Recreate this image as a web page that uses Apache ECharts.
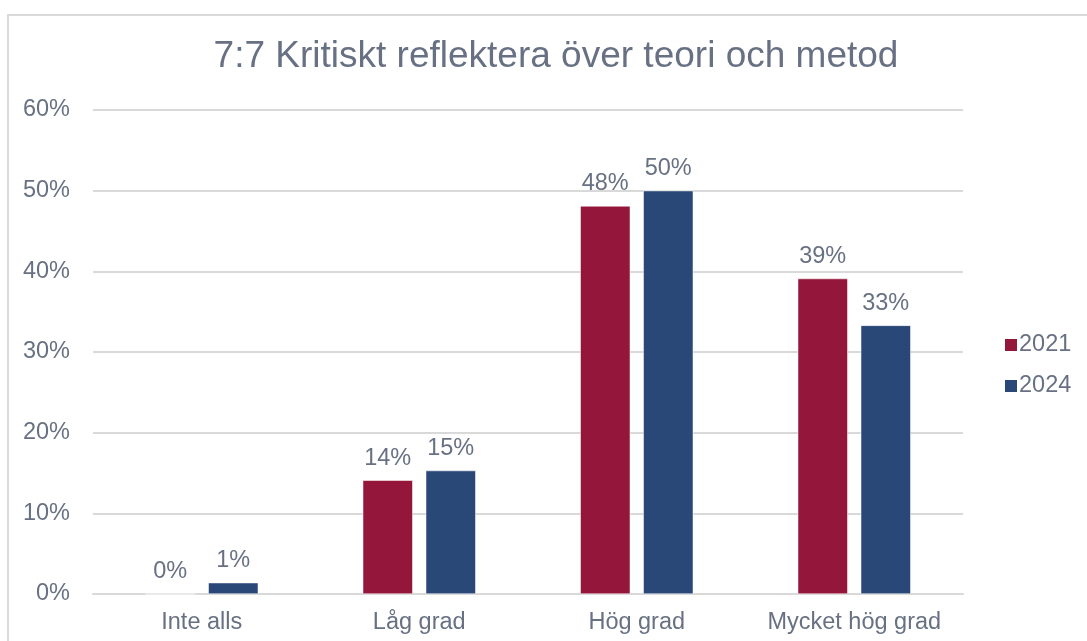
<!DOCTYPE html>
<html>
<head>
<meta charset="utf-8">
<script src="https://cdn.jsdelivr.net/npm/echarts@6/dist/echarts.min.js"></script>
<style>
  html, body { margin: 0; padding: 0; background: #fff; overflow: hidden; }
  #frame {
    position: absolute; left: 7px; top: 14px; width: 1200px; height: 700px;
    border: 2px solid #D9D9D9; box-sizing: border-box;
  }
  #chart { position: absolute; left: 0; top: 0; width: 1087px; height: 641px; }
</style>
</head>
<body>
<div id="frame"></div>
<div id="chart"></div>
<script>
// data
const categories = ['Inte alls', 'Låg grad', 'Hög grad', 'Mycket hög grad'];
const values2021 = [0, 14.1, 48.1, 39.1];
const values2024 = [1.4, 15.3, 50.0, 33.3];
const yTicks = [0, 10, 20, 30, 40, 50, 60];

const textColor = '#687183';
const font = 'Liberation Sans, Arial, sans-serif';
const fs = 23.5;

const chart = echarts.init(document.getElementById('chart'));

function barSeries(name, data, color) {
  return {
    name: name,
    type: 'bar',
    data: data,
    barWidth: 50,
    barGap: '26%',
    itemStyle: { color: color, borderColor: '#fff', borderWidth: 0.5 },
    label: {
      show: true,
      position: 'top',
      distance: 10,
      color: textColor,
      fontFamily: font,
      fontSize: fs,
      formatter: p => Math.round(p.value) + '%'
    }
  };
}

chart.setOption({
  animation: false,
  title: {
    text: '7:7 Kritiskt reflektera över teori och metod',
    left: 551,
    textAlign: 'center',
    top: 33,
    textStyle: { color: textColor, fontFamily: font, fontSize: 37, fontWeight: 'normal' }
  },
  legend: {
    orient: 'vertical',
    left: 1003,
    top: 333,
    padding: 0,
    itemWidth: 14,
    itemHeight: 14,
    itemGap: 17,
    icon: 'rect',
    textStyle: { color: textColor, fontFamily: font, fontSize: fs, padding: [0, 0, 0, -4] },
    data: ['2021', '2024']
  },
  grid: { left: 93, right: 124, top: 110, bottom: 47 },
  xAxis: {
    type: 'category',
    data: categories,
    axisLine: { lineStyle: { color: '#D9D9D9', width: 2 } },
    axisTick: { show: false },
    axisLabel: { color: textColor, fontFamily: font, fontSize: fs, margin: 17, interval: 0 }
  },
  yAxis: {
    type: 'value',
    min: yTicks[0],
    max: yTicks[yTicks.length - 1],
    interval: yTicks[1] - yTicks[0],
    axisLine: { show: false },
    axisTick: { show: false },
    splitLine: { lineStyle: { color: '#D9D9D9', width: 2 } },
    axisLabel: { color: textColor, fontFamily: font, fontSize: fs, margin: 23, formatter: v => v + '%' }
  },
  series: [
    barSeries('2021', values2021, '#95163B'),
    barSeries('2024', values2024, '#294877')
  ]
});
</script>
</body>
</html>
